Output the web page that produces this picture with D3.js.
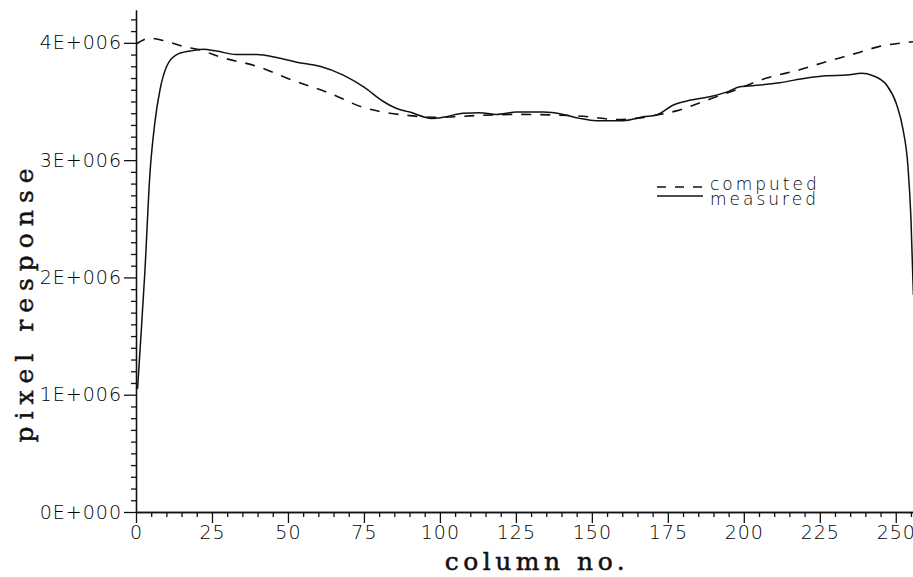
<!DOCTYPE html>
<html lang="en">
  <head>
    <meta charset="UTF-8" />
    <title>pixel response</title>
    <style>
      body { margin: 0; background: #fff; }
      .tick text { font-family: "DejaVu Sans", sans-serif; font-weight: 200; font-size: 19px; letter-spacing: 1px; fill: #000; }
      .domain, .tick line { stroke: #111; stroke-width: 1.3; }
    </style>
  </head>
  <body>
    <div id="chart"></div>

    <script src="https://cdn.jsdelivr.net/npm/d3@7"></script>
    <script>

      // values in units of 1E+006
      var measuredCols = [0.5, 1.5, 2.9, 4.6, 6.2, 7.9, 10.1, 13.4, 17.8, 22, 26.5, 33, 39.7, 46.3, 52.9, 60.5,
                          68.2, 74.8, 81.4, 85.8, 90.1, 97.3, 101, 107.6, 113, 118.6, 125.2, 134, 140.6, 146,
                          151.5, 160.3, 166.9, 171.3, 176.8, 182.2, 188.8, 194.3, 198.7, 205.3, 211.8, 220.6,
                          227.2, 233.8, 238.7, 242.5, 247, 250.2, 252.4, 254, 255, 255.8];
      var measuredVals = [1.05, 1.45, 2.04, 2.89, 3.32, 3.6, 3.80, 3.90, 3.93, 3.945, 3.93, 3.90, 3.90, 3.875, 3.835, 3.80,
                          3.725, 3.626, 3.50, 3.44, 3.41, 3.356, 3.365, 3.40, 3.405, 3.39, 3.41, 3.41, 3.39, 3.356,
                          3.336, 3.336, 3.37, 3.385, 3.47, 3.51, 3.54, 3.58, 3.625, 3.64, 3.66, 3.70,
                          3.72, 3.725, 3.74, 3.72, 3.64, 3.48, 3.26, 2.95, 2.5, 1.85];

      var computedCols = [0, 1.3, 4.6, 8.9, 15.5, 21, 27.6, 39.8, 51.6, 63.8, 74.7, 83.5, 88, 100, 112, 125, 137,
                          149, 158, 166, 171.3, 177.8, 187.7, 196.4, 207.5, 218.4, 227.2, 238.2, 244.7, 252.3, 256];
      var computedVals = [3.99, 4.01, 4.04, 4.02, 3.97, 3.94, 3.88, 3.80, 3.68, 3.57, 3.45, 3.40, 3.385, 3.365, 3.38, 3.39, 3.385,
                          3.37, 3.345, 3.36, 3.385, 3.42, 3.51, 3.59, 3.70, 3.77, 3.84, 3.92, 3.97, 4.00, 4.01];

      var xMajor = [0, 25, 50, 75, 100, 125, 150, 175, 200, 225, 250];
      var yMajor = [0, 1, 2, 3, 4];
      var seriesNames = ["computed", "measured"];

      var W = 913, H = 577;
      var svg = d3.select("#chart").append("svg")
                  .attr("width", W)
                  .attr("height", H);

      var xScale = d3.scaleLinear().domain([0, 256]).range([136, 914]);
      var yScale = d3.scaleLinear().domain([0, 4.28]).range([512, 10]);

      var xMinor = d3.range(0, 256, 5).filter(function(d) { return d % 25 != 0; });
      var yMinor = d3.range(1, 43).map(function(d) { return d / 10; }).filter(function(d) { return Math.round(d * 10) % 10 != 0; });

      // minor ticks first, then majors with labels
      svg.append("g")
         .attr("transform", "translate(0,512)")
         .call(d3.axisBottom(xScale).tickValues(xMinor).tickFormat("").tickSize(5).tickSizeOuter(0));
      svg.append("g")
         .attr("transform", "translate(0,512)")
         .call(d3.axisBottom(xScale).tickValues(xMajor).tickSize(11).tickPadding(3).tickSizeOuter(0));

      svg.append("g")
         .attr("transform", "translate(136,0)")
         .call(d3.axisLeft(yScale).tickValues(yMinor).tickFormat("").tickSize(5).tickSizeOuter(0));
      svg.append("g")
         .attr("transform", "translate(136,0)")
         .call(d3.axisLeft(yScale).tickValues(yMajor).tickSize(12).tickPadding(2).tickSizeOuter(0)
                 .tickFormat(function(d) { return d == 0 ? "0E+000" : d + "E+006"; }));

      var line = d3.line()
                   .x(function(d) { return xScale(d[0]); })
                   .y(function(d) { return yScale(d[1]); })
                   .curve(d3.curveMonotoneX);

      svg.append("path")
         .datum(d3.zip(computedCols, computedVals))
         .attr("fill", "none")
         .attr("stroke", "#111")
         .attr("stroke-width", 1.6)
         .attr("stroke-dasharray", "10,9")
         .attr("d", line);

      svg.append("path")
         .datum(d3.zip(measuredCols, measuredVals))
         .attr("fill", "none")
         .attr("stroke", "#111")
         .attr("stroke-width", 1.5)
         .attr("d", line);

      // legend
      var legend = svg.append("g").attr("transform", "translate(657,0)");
      legend.selectAll("line")
            .data(seriesNames)
            .enter()
            .append("line")
            .attr("x1", 0).attr("x2", 46)
            .attr("y1", function(d, i) { return 187 + i * 9; })
            .attr("y2", function(d, i) { return 187 + i * 9; })
            .attr("stroke", "#111")
            .attr("stroke-width", 1.4)
            .attr("stroke-dasharray", function(d, i) { return i == 0 ? "9,9" : null; });
      legend.selectAll("text")
            .data(seriesNames)
            .enter()
            .append("text")
            .attr("x", 53)
            .attr("y", function(d, i) { return 190 + i * 15; })
            .attr("font-family", "DejaVu Sans, sans-serif")
            .attr("font-weight", 200)
            .attr("font-size", 17)
            .attr("letter-spacing", 3)
            .attr("fill", "#000")
            .text(function(d) { return d; });

      svg.append("text")
         .attr("x", 537)
         .attr("y", 570)
         .attr("text-anchor", "middle")
         .attr("font-family", "DejaVu Serif, serif")
         .attr("font-size", 25)
         .attr("letter-spacing", 4.5)
         .attr("fill", "#111")
         .attr("stroke", "#111")
         .attr("stroke-width", 0.5)
         .text("column no.");
      svg.append("text")
         .attr("transform", "translate(33,302)rotate(-90)")
         .attr("text-anchor", "middle")
         .attr("font-family", "DejaVu Serif, serif")
         .attr("font-size", 25)
         .attr("letter-spacing", 7)
         .attr("fill", "#111")
         .attr("stroke", "#111")
         .attr("stroke-width", 0.5)
         .text("pixel response");

    </script>
  </body>
</html>
